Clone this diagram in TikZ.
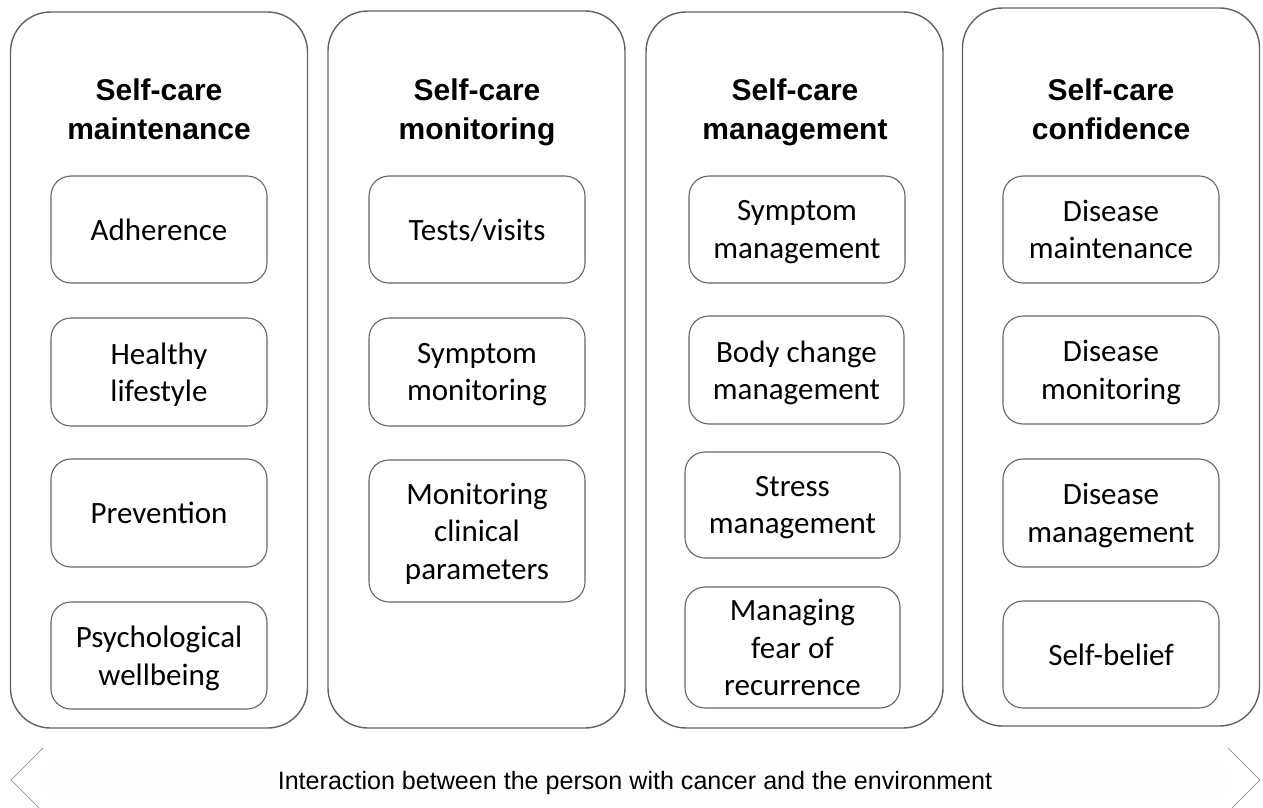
\documentclass[tikz,border=0pt]{standalone}
\usepackage{fontspec}
\setmainfont{Carlito}
\newfontfamily\headfont{Liberation Sans}
\begin{document}
\begin{tikzpicture}[x=1pt,y=-1pt,
  outerbox/.style={draw=black!62, line width=1.4pt, rounded corners=40pt, minimum width=297pt, inner sep=0pt},
  itembox/.style={draw=black!60, line width=1.1pt, rounded corners=20pt, minimum width=216pt, inner sep=0pt,
     align=center, text depth=0pt, font=\fontsize{31}{37.5}\selectfont},
  titleline/.style={anchor=base, font=\headfont\bfseries\fontsize{30}{39}\selectfont},
  chevron/.style={draw=black!38, line width=0.9pt}]
\useasboundingbox (0,0) rectangle (1263,808);
\clip (0,0) rectangle (1263,808);
% columns
\node[outerbox, minimum height=716pt] (c1) at (159,370) {};
\node[outerbox, minimum height=717pt] (c2) at (476.5,369.5) {};
\node[outerbox, minimum height=716pt] (c3) at (794.5,370) {};
\node[outerbox, minimum height=718pt] (c4) at (1111,367) {};
% titles
\node[titleline] (t1a) at (159,100) {Self-care};
\node[titleline] (t1b) at (159,139) {maintenance};
\node[titleline] (t2a) at (477,100) {Self-care};
\node[titleline] (t2b) at (477,139) {monitoring};
\node[titleline] (t3a) at (795,100) {Self-care};
\node[titleline] (t3b) at (795,139) {management};
\node[titleline] (t4a) at (1111,100) {Self-care};
\node[titleline] (t4b) at (1111,139) {confidence};
% column 1
\node[itembox, minimum height=107pt] (a1) at (159,229.5) {Adherence};
\node[itembox, minimum height=108pt] (a2) at (159,372) {Healthy\\lifestyle};
\node[itembox, minimum height=108pt] (a3) at (159,513) {Prevention};
\node[itembox, minimum height=107pt] (a4) at (159,655.5) {Psychological\\wellbeing};
% column 2
\node[itembox, minimum height=107pt] (b1) at (477,229.5) {Tests/visits};
\node[itembox, minimum height=108pt] (b2) at (477,372) {Symptom\\monitoring};
\node[itembox, minimum height=142pt] (b3) at (477,531) {Monitoring\\clinical\\parameters};
% column 3
\node[itembox, minimum height=107pt] (m1) at (797,229.5) {Symptom\\management};
\node[itembox, minimum height=108pt, minimum width=215pt] (m2) at (796.5,370) {Body change\\management};
\node[itembox, minimum height=106pt, minimum width=215pt] (m3) at (792.5,505) {Stress\\management};
\node[itembox, minimum height=121pt, minimum width=215pt] (m4) at (792.5,647.5) {Managing\\fear of\\recurrence};
% column 4
\node[itembox, minimum height=107pt] (d1) at (1111,229.5) {Disease\\maintenance};
\node[itembox, minimum height=108pt] (d2) at (1111,370) {Disease\\monitoring};
\node[itembox, minimum height=108pt] (d3) at (1111,513) {Disease\\management};
\node[itembox, minimum height=107pt] (d4) at (1111,654.5) {Self-belief};
% bottom double arrow
\coordinate (lt) at (43,748);
\coordinate (ltip) at (11,780);
\coordinate (lb) at (43,812);
\coordinate (rt) at (1228,748);
\coordinate (rtip) at (1260,780);
\coordinate (rb) at (1228,812);
\fill[black!0.5] (43,763) rectangle (1228,797);
\draw[chevron] (lt) -- (ltip) -- (lb);
\draw[chevron] (rt) -- (rtip) -- (rb);
\node[anchor=base, font=\headfont\fontsize{25.1}{29}\selectfont] (env) at (635,789)
  {Interaction between the person with cancer and the environment};
\end{tikzpicture}
\end{document}
